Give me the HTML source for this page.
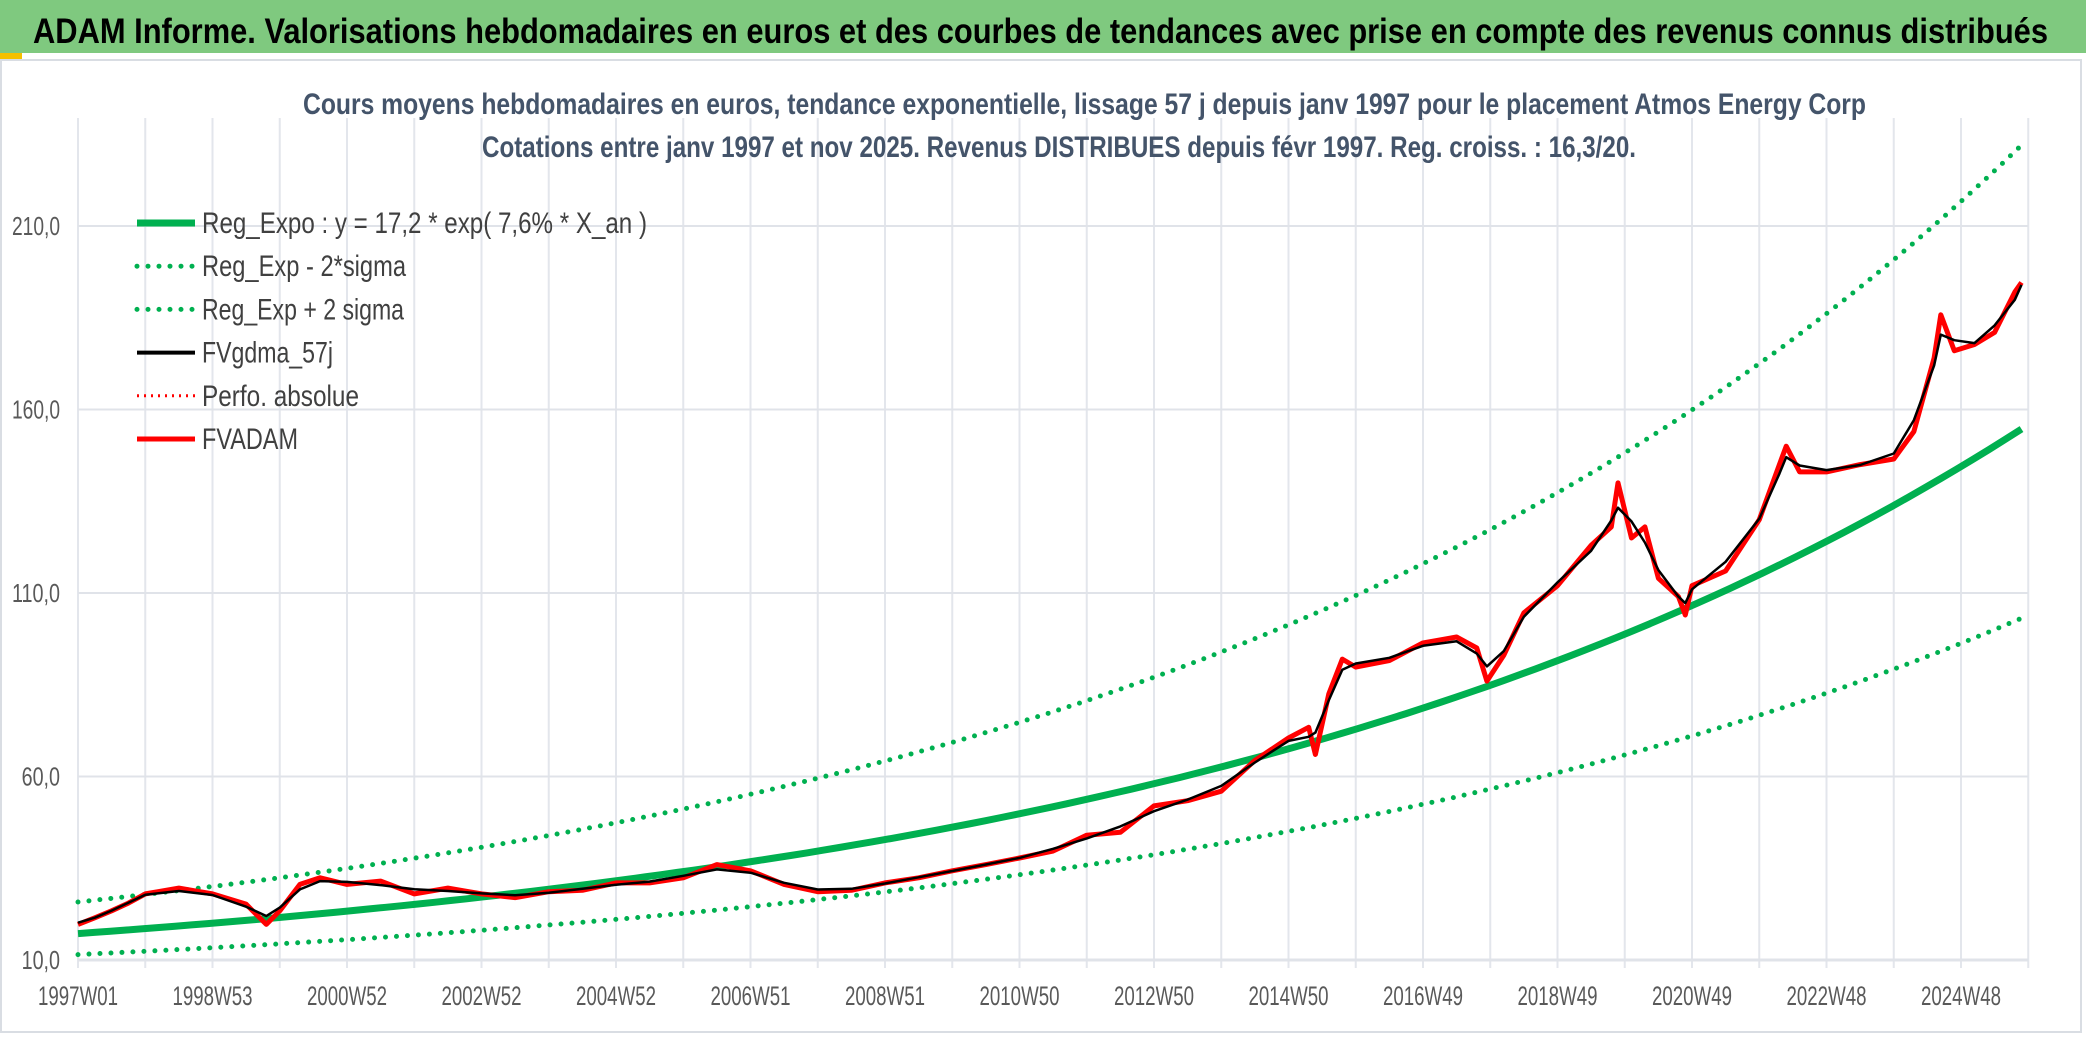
<!DOCTYPE html>
<html><head><meta charset="utf-8"><style>
html,body{margin:0;padding:0;background:#fff;}
svg{display:block;}
text{font-family:"Liberation Sans Narrow","Liberation Sans",sans-serif;}
</style></head><body>
<svg id="chart" width="2086" height="1037" viewBox="0 0 2086 1037" xmlns="http://www.w3.org/2000/svg">
<rect x="0" y="0" width="2086" height="53" fill="#7fc97f"/>
<rect x="0" y="53" width="22" height="7" fill="#f5c000"/>
<rect x="1" y="60" width="2080" height="972" fill="#fff" stroke="#d9dde3" stroke-width="2"/>
<text x="33" y="43" font-size="35" font-weight="bold" fill="#000" textLength="2015" lengthAdjust="spacingAndGlyphs">ADAM Informe. Valorisations hebdomadaires en euros et des courbes de tendances avec prise en compte des revenus connus distribués</text>
<g id="grid"></g>
<text x="303" y="114" font-size="30" font-weight="bold" fill="#44546a" textLength="1563" lengthAdjust="spacingAndGlyphs">Cours moyens hebdomadaires en euros, tendance exponentielle, lissage 57 j depuis janv 1997 pour le placement Atmos Energy Corp</text>
<text x="482" y="157" font-size="30" font-weight="bold" fill="#44546a" textLength="1154" lengthAdjust="spacingAndGlyphs">Cotations entre janv 1997 et nov 2025. Revenus DISTRIBUES depuis févr 1997. Reg. croiss. : 16,3/20.</text>
<g id="series"></g>
<g id="axes"></g>
<g id="legend"></g>
</svg>
<script>
const yTicks = [10, 60, 110, 160, 210];
const yTickLabels = ["10,0", "60,0", "110,0", "160,0", "210,0"];
const xTickLabels = ["1997W01","1998W53","2000W52","2002W52","2004W52","2006W51","2008W51","2010W50","2012W50","2014W50","2016W49","2018W49","2020W49","2022W48","2024W48"];
const regParams = [17.2, 0.076];
const sigmaFactor = [1.5];
const years = [1997.0,1997.25,1997.5,1997.75,1998.0,1998.5,1999.0,1999.5,1999.8,2000.0,2000.3,2000.6,2001.0,2001.5,2002.0,2002.5,2003.0,2003.5,2004.0,2004.5,2005.0,2005.5,2006.0,2006.5,2007.0,2007.5,2008.0,2008.5,2009.0,2009.5,2010.0,2010.5,2011.0,2011.5,2012.0,2012.5,2013.0,2013.5,2014.0,2014.5,2015.0,2015.3,2015.4,2015.6,2015.8,2016.0,2016.5,2017.0,2017.5,2017.8,2017.95,2018.2,2018.5,2019.0,2019.5,2019.8,2019.9,2020.1,2020.3,2020.5,2020.8,2020.9,2021.0,2021.5,2022.0,2022.3,2022.4,2022.6,2023.0,2023.5,2024.0,2024.3,2024.6,2024.7,2024.9,2025.2,2025.5,2025.8,2025.9];
const fvadam = [19.7,21.5,23.4,25.5,28,29.6,28,25.2,19.7,23.4,30.6,32.4,30.6,31.5,28,29.6,28,27,28.6,29,31,31,32.4,36,34.3,30.6,28.6,29,31,32.4,34.3,36,37.8,39.7,44,44.8,52,53.4,56,64.4,70.5,73.4,66,82.5,92,89.8,91.6,96.4,98,95,86,93,104.6,112,123,128,140,125,128,114,109,104,112,116,130,145,150,143,143,145,146.5,154,174,185.8,176,177.7,181,192,194.6];

const NS = "http://www.w3.org/2000/svg";
const X0 = 78, PX_PER_YEAR = 67.25, Y10 = 960, PX_PER_UNIT = 183.5/50;
function xScale(yr){ return X0 + (yr - 1997) * PX_PER_YEAR; }
function yScale(v){ return Y10 - (v - 10) * PX_PER_UNIT; }
function mk(tag, parent){ const e = document.createElementNS(NS, tag); parent.appendChild(e); return e; }

const grid = document.getElementById('grid');
for (let i = 0; i <= 29; i++) {
  const x = X0 + i * PX_PER_YEAR;
  const l = mk('line', grid);
  
  
  l.setAttribute('x1', x); l.setAttribute('x2', x);
  l.setAttribute('y1', 118); l.setAttribute('y2', 968);
  l.setAttribute('stroke', '#e3e6ec'); l.setAttribute('stroke-width', 2);
}
yTicks.forEach((v, i) => {
  const l = mk('line', grid);
  
  
  l.setAttribute('x1', X0); l.setAttribute('x2', xScale(1997 + 29));
  l.setAttribute('y1', yScale(v)); l.setAttribute('y2', yScale(v));
  l.setAttribute('stroke', '#e0e3e9'); l.setAttribute('stroke-width', i === 0 ? 3 : 2);
});

const axes = document.getElementById('axes');
yTicks.forEach((v, i) => {
  const t = mk('text', axes);
  
  
  const w = yTickLabels[i].length * 9.6;
  t.setAttribute('x', 60 - w); t.setAttribute('y', yScale(v) + 9);
  t.setAttribute('font-size', 26);
  t.setAttribute('fill', '#595959');
  t.setAttribute('textLength', w); t.setAttribute('lengthAdjust', 'spacingAndGlyphs');
  t.textContent = yTickLabels[i];
});
xTickLabels.forEach((lab, i) => {
  const t = mk('text', axes);
  
  
  t.setAttribute('x', X0 + i * 2 * PX_PER_YEAR - 40); t.setAttribute('y', 1005);
  t.setAttribute('font-size', 27); t.setAttribute('fill', '#595959');
  t.setAttribute('textLength', 80); t.setAttribute('lengthAdjust', 'spacingAndGlyphs');
  t.textContent = lab;
});

const series = document.getElementById('series');
const endYear = years[years.length - 1];
function regPath(f){
  let d = '';
  for (let k = 0; k <= 120; k++) {
    const yr = 1997 + (endYear - 1997) * k / 120;
    const v = regParams[0] * Math.exp(regParams[1] * (yr - 1997)) * f;
    d += (k ? 'L' : 'M') + xScale(yr).toFixed(1) + ',' + yScale(v).toFixed(1);
  }
  return d;
}
const up = mk('path', series);


up.setAttribute('d', regPath(sigmaFactor[0]));
up.setAttribute('fill', 'none'); up.setAttribute('stroke', '#00b050'); up.setAttribute('stroke-width', 5);
up.setAttribute('stroke-linecap', 'round'); up.setAttribute('stroke-dasharray', '0 11');
const lo = mk('path', series);


lo.setAttribute('d', regPath(1 / sigmaFactor[0]));
lo.setAttribute('fill', 'none'); lo.setAttribute('stroke', '#00b050'); lo.setAttribute('stroke-width', 5);
lo.setAttribute('stroke-linecap', 'round'); lo.setAttribute('stroke-dasharray', '0 11');
const reg = mk('path', series);


reg.setAttribute('d', regPath(1));
reg.setAttribute('fill', 'none'); reg.setAttribute('stroke', '#00b050'); reg.setAttribute('stroke-width', 7);

function linePath(vals){
  return vals.map((v, i) => (i ? 'L' : 'M') + xScale(years[i]).toFixed(1) + ',' + yScale(v).toFixed(1)).join('');
}
const red = mk('path', series);


red.setAttribute('d', linePath(fvadam));
red.setAttribute('fill', 'none'); red.setAttribute('stroke', '#ff0000'); red.setAttribute('stroke-width', 5);
red.setAttribute('stroke-linejoin', 'round');
const smooth = fvadam.map((v, i) => {
  const a = fvadam[Math.max(0, i - 1)], b = fvadam[Math.min(fvadam.length - 1, i + 1)];
  return (a + 2 * v + b) / 4;
});
const blk = mk('path', series);


blk.setAttribute('d', linePath(smooth));
blk.setAttribute('fill', 'none'); blk.setAttribute('stroke', '#000'); blk.setAttribute('stroke-width', 2.5);
blk.setAttribute('stroke-linejoin', 'round');

const legend = document.getElementById('legend');
const legendLabels = ["Reg_Expo : y = 17,2 * exp( 7,6% *  X_an )", "Reg_Exp - 2*sigma", "Reg_Exp + 2 sigma", "FVgdma_57j", "Perfo. absolue", "FVADAM"];
const legendWidths = [445, 204, 202, 131, 157, 96];
const legendStyles = [["#00b050", 7, null], ["#00b050", 5, "0 11"], ["#00b050", 5, "0 11"], ["#000", 4, null], ["#ff0000", 3, "2 5"], ["#ff0000", 5, null]];
legendLabels.forEach((lab, i) => {
  const cy = 223 + i * 43.2;
  const s = legendStyles[i];
  const l = mk('line', legend);
  
  
  l.setAttribute('x1', 137); l.setAttribute('x2', 195); l.setAttribute('y1', cy); l.setAttribute('y2', cy);
  l.setAttribute('stroke', s[0]); l.setAttribute('stroke-width', s[1]);
  if (s[2]) { l.setAttribute('stroke-dasharray', s[2]); if (s[2] === '0 11') l.setAttribute('stroke-linecap', 'round'); }
  const t = mk('text', legend);
  
  
  t.setAttribute('x', 202); t.setAttribute('y', cy + 10);
  t.setAttribute('font-size', 30); t.setAttribute('fill', '#404040');
  t.setAttribute('textLength', legendWidths[i]); t.setAttribute('lengthAdjust', 'spacingAndGlyphs');
  t.textContent = lab;
});
</script>
</body></html>
